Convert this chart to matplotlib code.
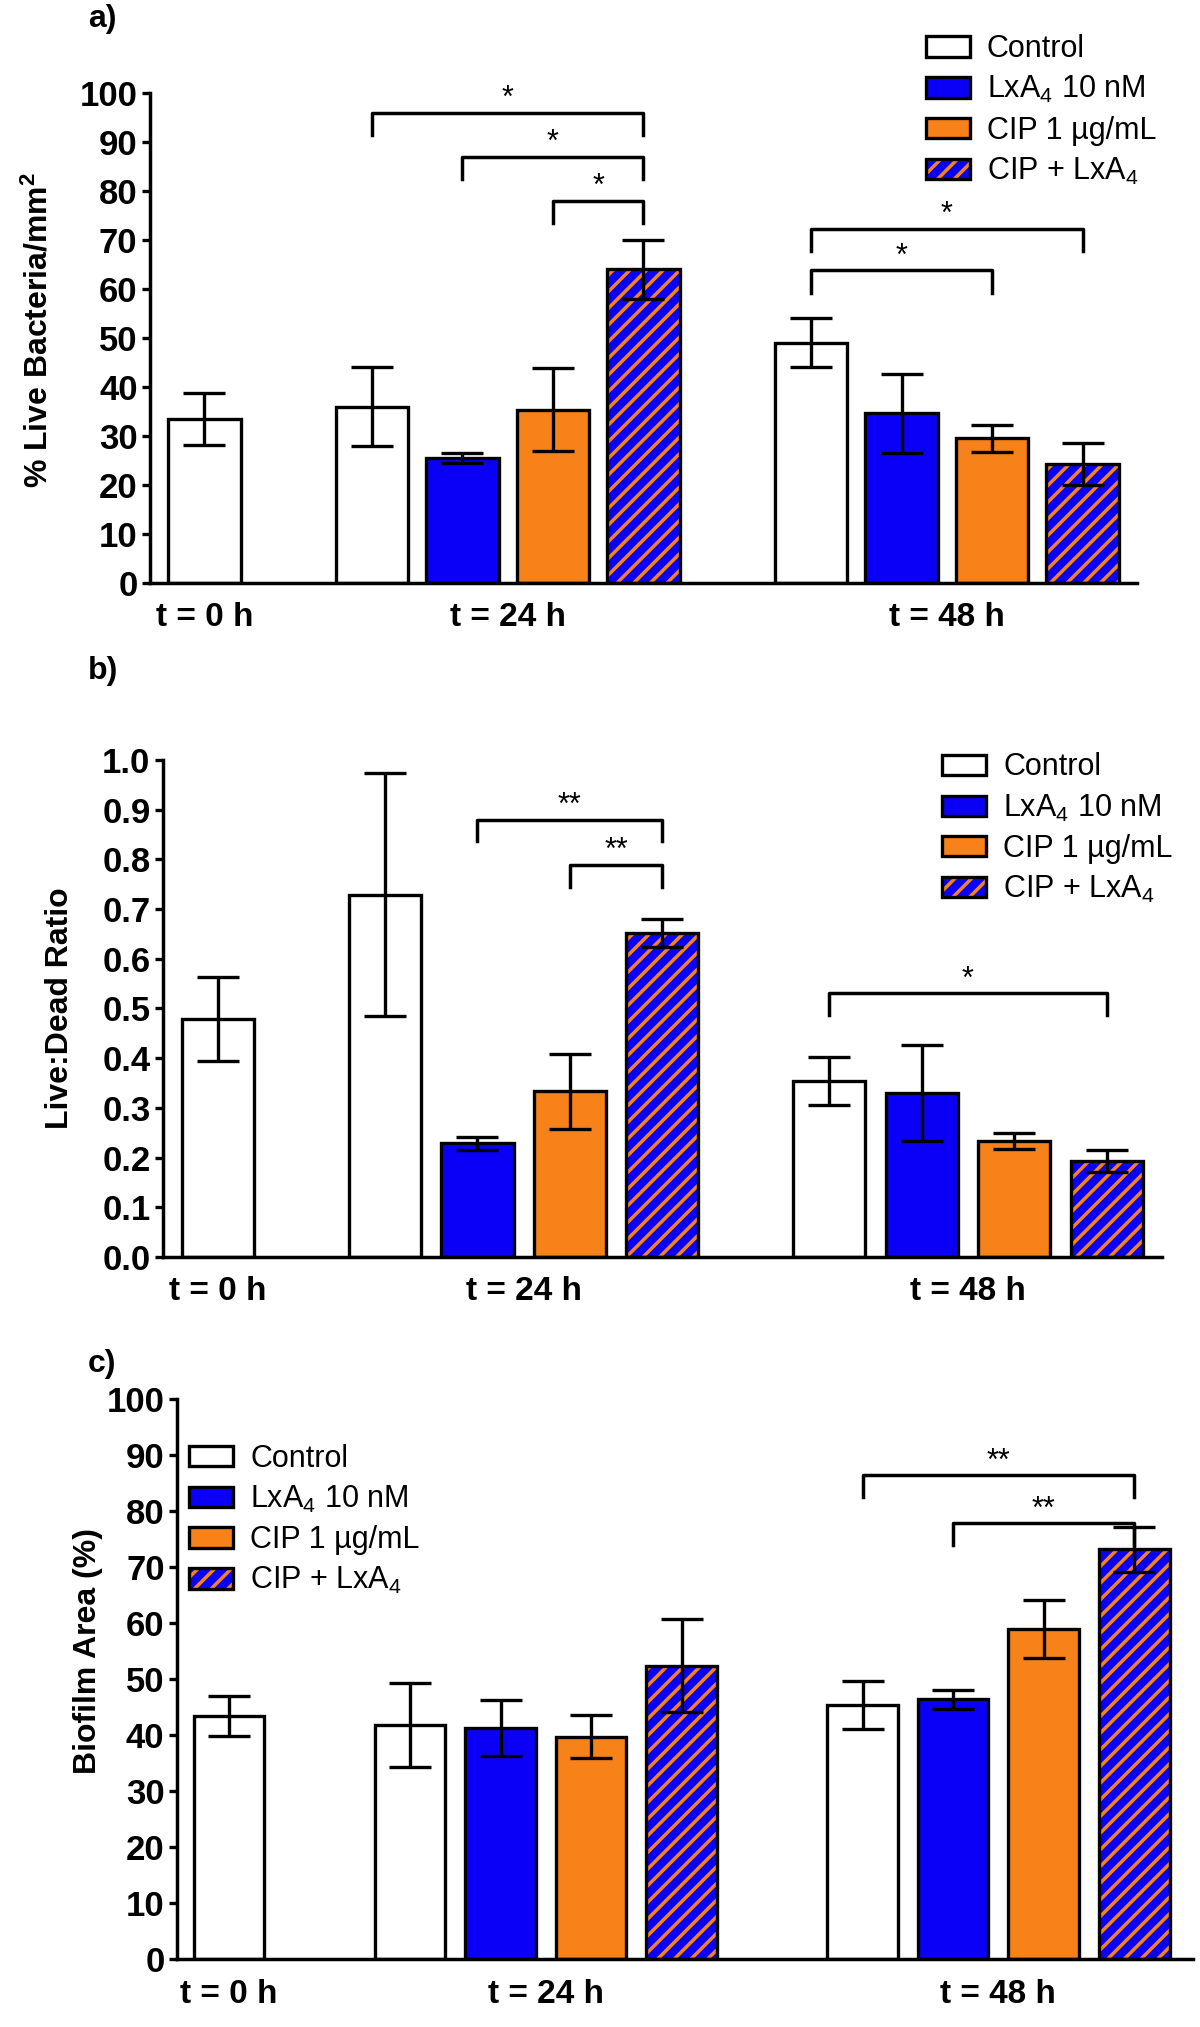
import matplotlib
matplotlib.use('Agg')
import matplotlib.pyplot as plt
from matplotlib.patches import Patch
import numpy as np

plt.rcParams['font.family'] = ['Liberation Sans', 'DejaVu Sans']
plt.rcParams['mathtext.fontset'] = 'custom'
plt.rcParams['mathtext.rm'] = 'Liberation Sans'
plt.rcParams['mathtext.it'] = 'Liberation Sans:italic'
plt.rcParams['mathtext.bf'] = 'Liberation Sans:bold'
plt.rcParams['hatch.linewidth'] = 2.5

# ---- data ----
groups = ['t = 0 h', 't = 24 h', 't = 48 h']
treatments = ['Control', 'LxA$_4$ 10 nM', 'CIP 1 µg/mL', 'CIP + LxA$_4$']
# bar order: t0 control, t24 (4 treatments), t48 (4 treatments)
bar_group = [0, 1, 1, 1, 1, 2, 2, 2, 2]
bar_treat = [0, 0, 1, 2, 3, 0, 1, 2, 3]

live_mean = [33.5, 36.0, 25.5, 35.4, 64.0, 49.0, 34.6, 29.5, 24.3]
live_err = [5.3, 8.0, 1.0, 8.5, 6.0, 5.0, 8.0, 2.8, 4.3]
live_sig = [(1, 4, 96.0, '*'), (2, 4, 87.0, '*'), (3, 4, 78.0, '*'),
            (5, 8, 72.3, '*'), (5, 7, 63.8, '*')]

ratio_mean = [0.479, 0.729, 0.229, 0.333, 0.651, 0.354, 0.330, 0.234, 0.193]
ratio_err = [0.085, 0.245, 0.013, 0.075, 0.028, 0.048, 0.097, 0.016, 0.022]
ratio_sig = [(2, 4, 0.88, '**'), (3, 4, 0.789, '**'), (5, 8, 0.531, '*')]

area_mean = [43.4, 41.8, 41.3, 39.7, 52.4, 45.3, 46.4, 58.9, 73.2]
area_err = [3.5, 7.5, 5.0, 3.8, 8.3, 4.3, 1.7, 5.2, 4.0]
area_sig = [(5, 8, 86.4, '**'), (6, 8, 77.8, '**')]

white = 'white'
blue = '#0A00F5'
orange = '#F8821A'
face = [white, blue, orange, blue]

fig = plt.figure(figsize=(12, 20.27), dpi=100)


def bar_positions(step):
    pos = [0.0]
    for k in range(1, len(bar_group)):
        pos.append(pos[-1] + (1.0 if bar_group[k] == bar_group[k - 1] else step))
    return np.array(pos)


def panel(rect, mean, err, sig, step, width, xlim, ylim, yticks, ylabel,
          leg_anchor, leg_drop, ylabel_xy, tick_fmt):
    ax = fig.add_axes(rect)
    x = bar_positions(step)
    mean = np.array(mean)
    for k in range(len(x)):
        t = bar_treat[k]
        if t == 3:
            ax.bar(x[k], mean[k], width, color=blue, edgecolor=orange,
                   hatch='//', linewidth=0, zorder=2)
            ax.bar(x[k], mean[k], width, fill=False, edgecolor='k',
                   linewidth=2.4, zorder=3)
        else:
            ax.bar(x[k], mean[k], width, color=face[t], edgecolor='k',
                   linewidth=2.4, zorder=2)
    ax.errorbar(x, mean, yerr=err, fmt='none', ecolor='k', elinewidth=2.4,
                capsize=15, capthick=2.4, zorder=4)

    # significance brackets
    for i, j, y, s in sig:
        ax.plot([x[i], x[i], x[j], x[j]], [y - leg_drop, y, y, y - leg_drop],
                color='k', lw=2.5, clip_on=False, zorder=5)
        ax.annotate(s, ((x[i] + x[j]) / 2, y), xytext=(0, -1),
                    textcoords='offset points', ha='center', va='bottom',
                    fontsize=22, annotation_clip=False)

    ax.set_xlim(*xlim)
    ax.set_ylim(*ylim)
    ax.set_yticks(yticks)
    ax.set_yticklabels([tick_fmt.format(v) for v in yticks])
    centers = [x[np.array(bar_group) == g].mean() for g in range(len(groups))]
    ax.set_xticks(centers)
    ax.set_xticklabels(groups)
    ax.tick_params(axis='x', length=0, pad=14, labelsize=24)
    ax.tick_params(axis='y', length=6, width=2.4, labelsize=25, pad=3)
    plt.setp(ax.get_xticklabels(), fontweight='bold')
    plt.setp(ax.get_yticklabels(), fontweight='bold')
    for side in ['top', 'right']:
        ax.spines[side].set_visible(False)
    for side in ['left', 'bottom']:
        ax.spines[side].set_linewidth(2.5)
    ax.set_ylabel(ylabel, fontsize=23, fontweight='bold')
    ax.yaxis.set_label_coords(*ylabel_xy)

    handles = [Patch(facecolor=white, edgecolor='k', linewidth=2.4),
               Patch(facecolor=blue, edgecolor='k', linewidth=2.4),
               Patch(facecolor=orange, edgecolor='k', linewidth=2.4),
               (Patch(facecolor=blue, edgecolor=orange, hatch='//', linewidth=0),
                Patch(fill=False, edgecolor='k', linewidth=2.4))]
    ax.legend(handles, treatments, loc='upper left', bbox_to_anchor=leg_anchor,
              frameon=False, fontsize=22, borderpad=0, borderaxespad=0,
              handlelength=1.45, handleheight=0.65, handletextpad=0.55,
              labelspacing=0.33)
    return ax


panel([0.125, 0.7124, 0.8225, 0.2417], live_mean, live_err, live_sig,
      1.85, 0.8, (-0.6, 10.3), (0, 100), np.arange(0, 101, 10),
      '% Live Bacteria/mm$^\\mathbf{2}$', (0.786, 1.12), 4.6,
      (-0.097, 0.516), '{:.0f}')

panel([0.1358, 0.3799, 0.8325, 0.2452], ratio_mean, ratio_err, ratio_sig,
      1.81, 0.78, (-0.595, 10.22), (0, 1.0), np.round(np.arange(0, 1.01, 0.1), 1),
      'Live:Dead Ratio', (0.78, 1.015), 0.044,
      (-0.088, 0.5), '{:.1f}')

panel([0.1475, 0.0335, 0.8467, 0.2763], area_mean, area_err, area_sig,
      2.0, 0.78, (-0.575, 10.65), (0, 100), np.arange(0, 101, 10),
      'Biofilm Area (%)', (0.012, 0.92), 3.9,
      (-0.073, 0.55), '{:.0f}')

fig.text(88 / 1200, 1 - 19 / 2027, 'a)', fontsize=23, fontweight='bold',
         va='center', ha='left')
fig.text(88 / 1200, 1 - 671 / 2027, 'b)', fontsize=23, fontweight='bold',
         va='center', ha='left')
fig.text(88 / 1200, 1 - 1364 / 2027, 'c)', fontsize=23, fontweight='bold',
         va='center', ha='left')

fig.savefig('out.png', dpi=100)
